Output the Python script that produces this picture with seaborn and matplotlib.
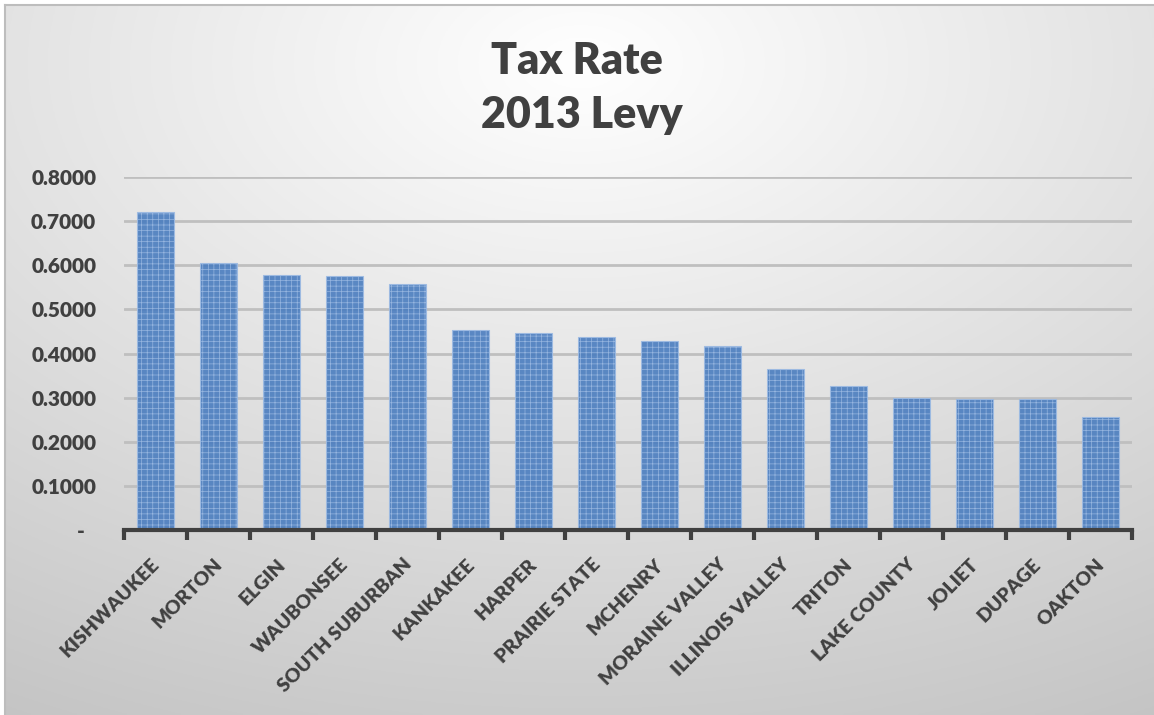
import numpy as np
import pandas as pd
import matplotlib
matplotlib.use("Agg")
import matplotlib.pyplot as plt
import seaborn as sns
from matplotlib.transforms import ScaledTranslation

categories = ["KISHWAUKEE", "MORTON", "ELGIN", "WAUBONSEE", "SOUTH SUBURBAN",
              "KANKAKEE", "HARPER", "PRAIRIE STATE", "MCHENRY", "MORAINE VALLEY",
              "ILLINOIS VALLEY", "TRITON", "LAKE COUNTY", "JOLIET", "DUPAGE", "OAKTON"]
tax_rates = [0.720, 0.606, 0.578, 0.575, 0.558, 0.453, 0.446, 0.438, 0.429,
             0.418, 0.365, 0.326, 0.300, 0.297, 0.297, 0.257]
y_ticks = [0.0, 0.1, 0.2, 0.3, 0.4, 0.5, 0.6, 0.7, 0.8]
y_tick_labels = ["-", "0.1000", "0.2000", "0.3000", "0.4000", "0.5000",
                 "0.6000", "0.7000", "0.8000"]
title_lines = ["Tax Rate", "2013 Levy"]

sns.set_theme(style="white")
plt.rcParams["font.family"] = ["Lato", "DejaVu Sans"]
plt.rcParams["hatch.linewidth"] = 0.5

W_PX, H_PX = 1154, 715
fig = plt.figure(figsize=(W_PX / 100, H_PX / 100), dpi=100)
fig.patch.set_facecolor("white")

# background gradient panel
bg = fig.add_axes([5 / W_PX, 0, 1 - 5 / W_PX, 1 - 5 / H_PX], zorder=-10)
gh, gw = 300, 480
yy, xx = np.mgrid[0:gh, 0:gw]
r = np.sqrt(((xx - gw * 0.5) / gw) ** 2 + ((yy - gh * 0.08) / gh) ** 2)
val = 1.0 - 0.22 * r
img = np.dstack([val, val, val])
bg.imshow(img, aspect="auto", extent=[0, 1, 0, 1], origin="upper")
bg.set_xlim(0, 1)
bg.set_ylim(0, 1)
bg.set_xticks([])
bg.set_yticks([])
for side in ["right", "bottom"]:
    bg.spines[side].set_visible(False)
for side in ["top", "left"]:
    bg.spines[side].set_color("#bdbdbd")
    bg.spines[side].set_linewidth(1.5)

ax = fig.add_axes([124 / W_PX, 1 - 530 / H_PX, 1008 / W_PX, 353 / H_PX])
ax.patch.set_alpha(0)

df = pd.DataFrame({"college": categories, "rate": tax_rates})
sns.barplot(data=df, x="college", y="rate", ax=ax, color="#4a7dbf",
            saturation=1, width=0.6, edgecolor="#9dbbe3", linewidth=0.8,
            hatch="+++", alpha=0.9, zorder=2)

ax.set_xlim(-0.5, len(categories) - 0.5)
ax.set_ylim(0, 0.8)
ax.set_yticks(y_ticks)
ax.set_yticklabels(y_tick_labels)
ax.grid(axis="y", color="#bfbfbf", linewidth=2)
ax.grid(axis="x", visible=False)
ax.set_axisbelow(True)
ax.set_xlabel("")
ax.set_ylabel("")

for side in ["top", "right", "left"]:
    ax.spines[side].set_visible(False)
ax.spines["bottom"].set_color("#404040")
ax.spines["bottom"].set_linewidth(3)
ax.spines["bottom"].set_zorder(5)

ax.set_xticks(np.arange(-0.5, len(categories), 1.0), minor=True)
ax.tick_params(axis="x", which="minor", length=7, width=3, color="#404040",
               direction="out", bottom=True)
ax.tick_params(axis="x", which="major", length=0, pad=2)
ax.tick_params(axis="y", length=0, pad=20)

ax.set_xticks(range(len(categories)))
ax.set_xticklabels(categories, rotation=45, ha="right", va="top",
                   rotation_mode="anchor")
offset = ScaledTranslation(-5 / 100, -23 / 100, fig.dpi_scale_trans)
for lab in ax.get_xticklabels():
    lab.set_fontweight("heavy")
    lab.set_fontsize(14)
    lab.set_color("#404040")
    lab.set_transform(lab.get_transform() + offset)
for i, lab in enumerate(ax.get_yticklabels()):
    lab.set_fontweight("heavy")
    lab.set_fontsize(15)
    lab.set_color("#404040")
    if i == 0:
        lab.set_transform(lab.get_transform()
                          + ScaledTranslation(-11 / 100, 0, fig.dpi_scale_trans))

fig.text(577 / W_PX, 1 - 61 / H_PX, title_lines[0], ha="center", va="center",
         fontsize=31, fontweight="heavy", color="#404040")
fig.text(582 / W_PX, 1 - 115 / H_PX, title_lines[1], ha="center", va="center",
         fontsize=31, fontweight="heavy", color="#404040")

fig.savefig("out.png", dpi=100)
